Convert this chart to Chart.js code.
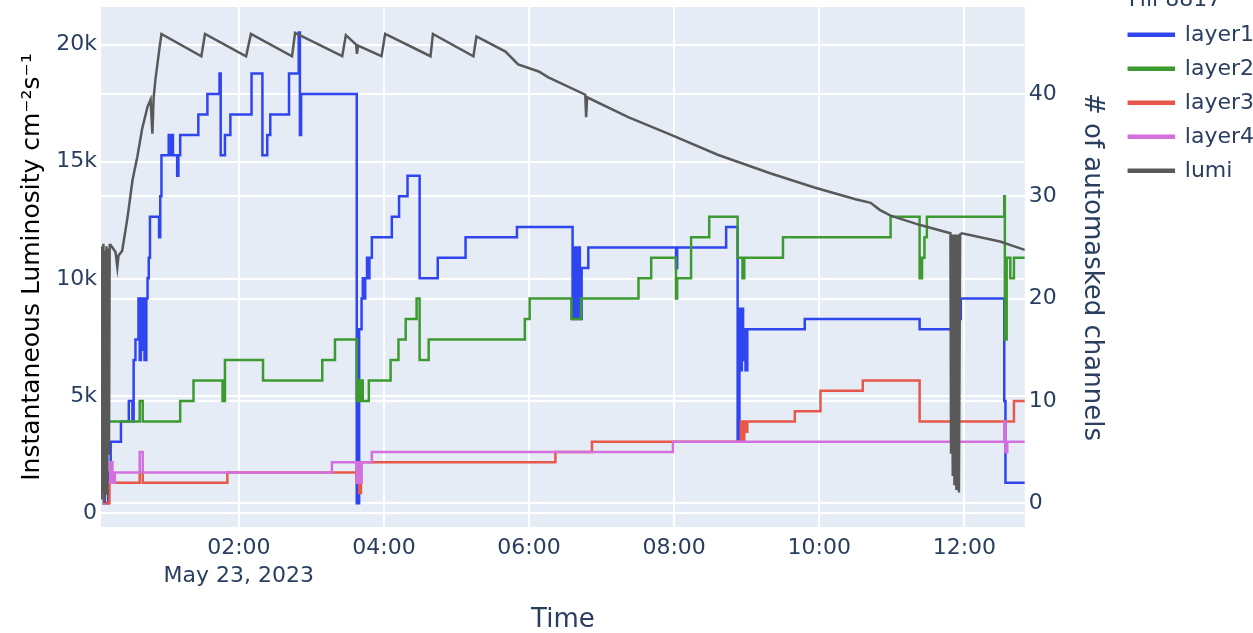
<!DOCTYPE html>
<html>
<head>
<meta charset="utf-8">
<script src="https://cdn.jsdelivr.net/npm/chart.js@4"></script>
<style>
  body { margin: 0; background: #fff; }
  #wrap { width: 1253px; height: 633px; }
</style>
</head>
<body>
<div id="wrap"><canvas id="lumiChart"></canvas></div>
<script>
// Data ------------------------------------------------------------------------
// time in minutes after midnight, May 23 2023
const fillName = 'Fill 8817';
const dateLabel = 'May 23, 2023';
const tickHours = [2, 4, 6, 8, 10, 12];
const lumiTicks = [0, 5000, 10000, 15000, 20000];
const channelTicks = [0, 10, 20, 30, 40];
const seriesNames = ['layer1', 'layer2', 'layer3', 'layer4', 'lumi'];

const layer1Time = [7, 12, 14, 22.5, 29, 32, 33, 34.5, 37, 38, 39, 40, 41, 42, 43.5, 44.5, 45.5, 46.5,
  54, 55, 56, 62, 63, 64, 65.5, 69, 70, 71.5, 86.5, 94, 104, 105, 108.5, 113, 130.5, 139.5, 143.5,
  146, 161.5, 169.5, 170.5, 171.5, 217.5, 219.5, 221.5, 222.5, 223.5, 224.5, 226, 227, 228, 230,
  246.5, 252.5, 259.5, 269.5, 284.5, 307.5, 350, 396, 398, 399, 401, 402, 403.5, 409, 481.5, 482.5,
  523, 532.5, 534, 535, 536, 537, 538, 539, 540.5, 588, 683, 710, 717, 753, 754, 770];
const layer1 = [0, 3, 6, 8, 10, 8, 14, 16, 20, 14, 20, 15, 20, 14, 20, 22, 24, 28,
  26, 30, 34, 36, 34, 36, 34, 32, 34, 36, 38, 40, 42, 34, 36, 38, 42, 34, 36,
  38, 42, 46, 36, 40, 0, 17, 20, 22, 20, 22, 24, 22, 24, 26,
  28, 30, 32, 22, 24, 26, 27, 18, 25, 18, 25, 18, 23, 25, 23, 25,
  27, 6, 19, 13, 19, 14, 17, 13, 17, 18, 17, 18, 20, 10, 2, 2];

const layer2Time = [7, 9, 38, 40.5, 71.5, 82.5, 106.5, 108.5, 140, 189, 199.5, 217.5, 218.5, 220,
  221.5, 222.5, 227.5, 245.5, 252, 258, 267, 269.5, 277, 356.5, 360.5, 395, 403, 450.5, 461, 481.5,
  482.5, 494, 509, 532.5, 536.5, 538, 570, 659, 683, 685, 687, 689, 753, 753.5, 755, 758, 761, 770];
const layer2 = [4, 8, 10, 8, 10, 12, 10, 14, 12, 14, 16, 10, 12, 10,
  12, 10, 12, 14, 16, 18, 20, 14, 16, 18, 20, 18, 20, 22, 24, 20,
  22, 26, 28, 24, 22, 24, 26, 28, 22, 24, 26, 28, 30, 16, 24, 22, 24, 24];

const layer3Time = [8, 13, 38, 40.5, 110.5, 217.5, 218.5, 219.5, 221, 381.8, 412, 535.2, 536.5,
  538, 539.5, 540.5, 579.8, 601, 636, 683, 761, 770];
const layer3 = [0, 2, 3, 2, 3, 2, 4, 1, 4, 5, 6, 8, 6,
  8, 7, 8, 9, 11, 12, 8, 10, 10];

const layer4Time = [7, 8, 13.5, 15.5, 17.5, 38, 40.5, 197, 217.5, 219, 220, 221.5, 230, 479,
  753, 754, 755.5, 770];
const layer4 = [0, 2, 4, 2, 3, 5, 3, 4, 2, 4, 2, 4, 5, 6,
  8, 5, 6, 6];

const lumiTime = [6, 6.5, 7, 7.6, 8, 8.8, 9.3, 10, 10.5, 11.2, 11.8, 12.6, 13.2, 14, 18, 19.5,
  20.5, 23.5, 28, 32, 36, 40, 44.5, 47, 48.5, 49.5, 51, 54.5, 56, 89, 92, 126, 130, 164, 166.5,
  205.5, 208.5, 217, 217.7, 218.5, 238, 241, 278.5, 280.5, 314, 316.5, 340.5, 351, 368, 376,
  406.5, 407.2, 408, 442, 477.5, 516, 560, 596, 630, 642.5, 650, 659, 683.5, 708.5, 709, 709.6,
  710.4, 711, 711.8, 712.6, 713.4, 714.5, 715.5, 716.5, 718, 749.5, 770];
const lumi = [11400, 600, 11300, 900, 11500, 500, 11200, 1500, 11400, 800, 11300, 2500, 11450, 11450, 11150, 10500,
  11000, 11200, 12650, 14200, 15200, 16400, 17350, 17650, 16200, 17700, 18500, 19900, 20450, 19500, 20450, 19500, 20450, 19500, 20500,
  19500, 20400, 20000, 19600, 19950, 19500, 20450, 19500, 20450, 19500, 20350, 19700, 19150, 18850, 18600,
  17860, 16900, 17750, 16900, 16150, 15300, 14500, 13900, 13400, 13250, 12950, 12700, 12300, 11950, 2600, 11900,
  1600, 11900, 1200, 11900, 1000, 11900, 900, 11900, 11950, 11600, 11240];

const colors = ['#2f45f0', '#3d9a30', '#e5584b', '#d470de', '#595959'];

// Helpers ---------------------------------------------------------------------
function toPoints(times, values) {
  return times.map((t, i) => ({ x: t, y: values[i] }));
}

function pad2(n) {
  return String(n).padStart(2, '0');
}

// Plot background like plotly
const plotBg = {
  id: 'plotBg',
  beforeDraw(chart) {
    const { ctx, chartArea } = chart;
    ctx.save();
    ctx.fillStyle = '#e5ecf6';
    ctx.fillRect(chartArea.left, chartArea.top, chartArea.width, chartArea.height);
    ctx.restore();
  }
};

// Legend title, cut at the top edge like the original
const legendTitle = {
  id: 'legendTitle',
  afterDraw(chart) {
    const box = chart.legend.legendHitBoxes[0];
    const ctx = chart.ctx;
    ctx.save();
    ctx.font = '22px "DejaVu Sans"';
    ctx.fillStyle = '#2a3f5f';
    ctx.textBaseline = 'alphabetic';
    ctx.fillText(fillName, box.left, 6);
    ctx.restore();
  }
};

// fixed axis sizes, no extra room for the end labels
function fixSize(key, size) {
  return (s) => {
    s[key] = size;
    s.paddingTop = 0;
    s.paddingBottom = 0;
    s.paddingLeft = 0;
    s.paddingRight = 0;
  };
}

// Chart -----------------------------------------------------------------------
Chart.defaults.font.family = '"DejaVu Sans", Verdana, sans-serif';
Chart.defaults.color = '#2a3f5f';

const allTimes = [layer1Time, layer2Time, layer3Time, layer4Time, lumiTime];
const allValues = [layer1, layer2, layer3, layer4, lumi];

const datasets = seriesNames.map((name, i) => ({
  label: name,
  data: toPoints(allTimes[i], allValues[i]),
  borderColor: colors[i],
  backgroundColor: colors[i],
  borderWidth: 2.5,
  pointRadius: 0,
  tension: 0,
  stepped: name === 'lumi' ? false : 'before',
  yAxisID: name === 'lumi' ? 'y' : 'y1',
  order: seriesNames.length - i
}));

const gridOpts = {
  color: '#ffffff',
  lineWidth: 2,
  drawTicks: false
};

new Chart(document.getElementById('lumiChart'), {
  type: 'line',
  data: { datasets: datasets },
  plugins: [plotBg, legendTitle],
  options: {
    responsive: true,
    maintainAspectRatio: false,
    animation: false,
    layout: { padding: { top: 7, right: -11, left: 0, bottom: 0 } },
    plugins: {
      tooltip: { enabled: false },
      legend: {
        position: 'right',
        align: 'start',
        // empty title only pushes the items down a little
        title: { display: true, text: '', font: { size: 4 }, padding: 0 },
        labels: {
          boxWidth: 45,
          boxHeight: 2,
          padding: 12,
          color: '#2a3f5f',
          font: { size: 22 },
          sort: (a, b) => a.datasetIndex - b.datasetIndex
        }
      }
    },
    scales: {
      x: {
        type: 'linear',
        min: 6,
        max: 770,
        grid: gridOpts,
        border: { display: false },
        afterFit: fixSize('height', 106),
        afterBuildTicks: (s) => { s.ticks = tickHours.map(h => ({ value: h * 60 })); },
        ticks: {
          autoSkip: false,
          maxRotation: 0,
          padding: 8,
          color: '#2a3f5f',
          font: { size: 22, lineHeight: 1.25 },
          callback: (v) => {
            const h = v / 60;
            const txt = pad2(h) + ':00';
            return h === tickHours[0] ? [txt, dateLabel] : txt;
          }
        },
        title: {
          display: true,
          text: 'Time',
          color: '#2a3f5f',
          font: { size: 26, lineHeight: 1 },
          padding: { top: 0, bottom: 0 }
        }
      },
      y: {
        position: 'left',
        min: -576,
        max: 21600,
        grid: gridOpts,
        border: { display: false },
        afterFit: fixSize('width', 101),
        afterBuildTicks: (s) => { s.ticks = lumiTicks.map(v => ({ value: v })); },
        ticks: {
          padding: 4,
          color: '#2a3f5f',
          font: { size: 22 },
          callback: (v) => (v === 0 ? '0' : v / 1000 + 'k')
        },
        title: {
          display: true,
          text: 'Instantaneous Luminosity cm⁻²s⁻¹',
          color: '#000000',
          font: { size: 25 },
          padding: { top: 17, bottom: 0 }
        }
      },
      y1: {
        position: 'right',
        min: -2.32,
        max: 48.5,
        grid: gridOpts,
        border: { display: false },
        afterFit: fixSize('width', 92),
        afterBuildTicks: (s) => { s.ticks = channelTicks.map(v => ({ value: v })); },
        ticks: {
          padding: 4,
          color: '#2a3f5f',
          font: { size: 22 }
        },
        title: {
          display: true,
          text: '# of automasked channels',
          color: '#2a3f5f',
          font: { size: 26 },
          padding: { top: 9, bottom: 0 }
        }
      }
    }
  }
});
</script>
</body>
</html>
